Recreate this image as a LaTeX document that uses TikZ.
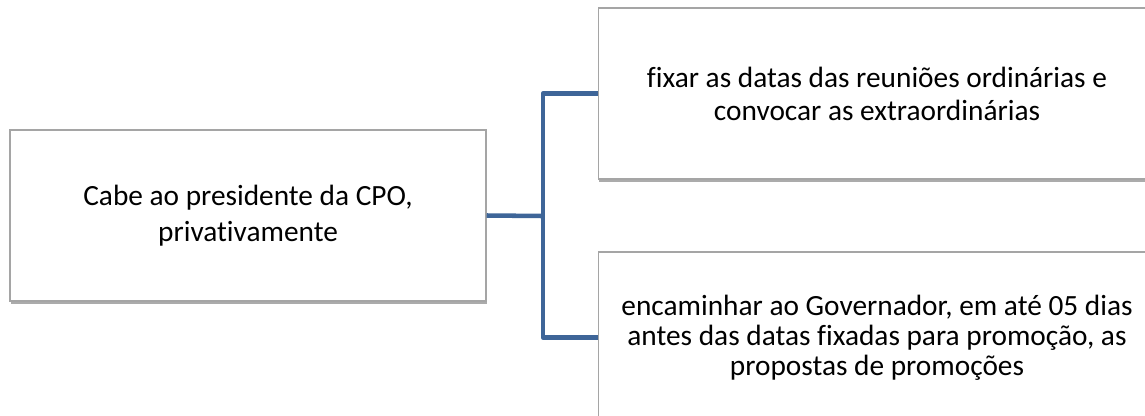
\documentclass[tikz,border=0pt]{standalone}
\usepackage{fontspec}
\setmainfont[Ligatures=CommonOff]{Carlito}
\usetikzlibrary{shadows}
\definecolor{ramoazul}{RGB}{62,101,152}
\definecolor{bordacinza}{RGB}{165,165,165}

\begin{document}
\begin{tikzpicture}[x=0.75pt, y=-0.75pt,
    caixa/.style={draw=bordacinza, line width=1.1pt, fill=white, align=center,
        minimum width=357pt, minimum height=128pt, inner sep=0pt,
        drop shadow={shadow xshift=0.8pt, shadow yshift=-2.2pt, opacity=0.6, fill=black!55}},
    ramo/.style={draw=ramoazul, line width=3.4pt, line join=round}]

    % Frame
    \useasboundingbox (0, 0) rectangle (1145, 415);

    % Define the boxes
    \node[caixa, font=\fontsize{22}{27}\selectfont] (pres) at (248, 215.5) {Cabe ao presidente da CPO,\\privativamente};
    \node[caixa, minimum width=418pt, font=\fontsize{22}{24.75}\selectfont] (fixar) at (877, 93.5) {fixar as datas das reuniões ordinárias e\\convocar as extraordinárias};
    \node[caixa, minimum width=418pt, font=\fontsize{22}{22.5}\selectfont] (encam) at (877, 337.5) {encaminhar ao Governador, em até 05 dias\\antes das datas fixadas para promoção, as\\propostas de promoções};

    % Junction of the connector
    \coordinate (junc) at (543, 216);

    % Connect the boxes
    \draw[ramo] (pres.east) -- (junc);
    \draw[ramo] (fixar.west) -| (junc) |- (encam.west);

\end{tikzpicture}
\end{document}
